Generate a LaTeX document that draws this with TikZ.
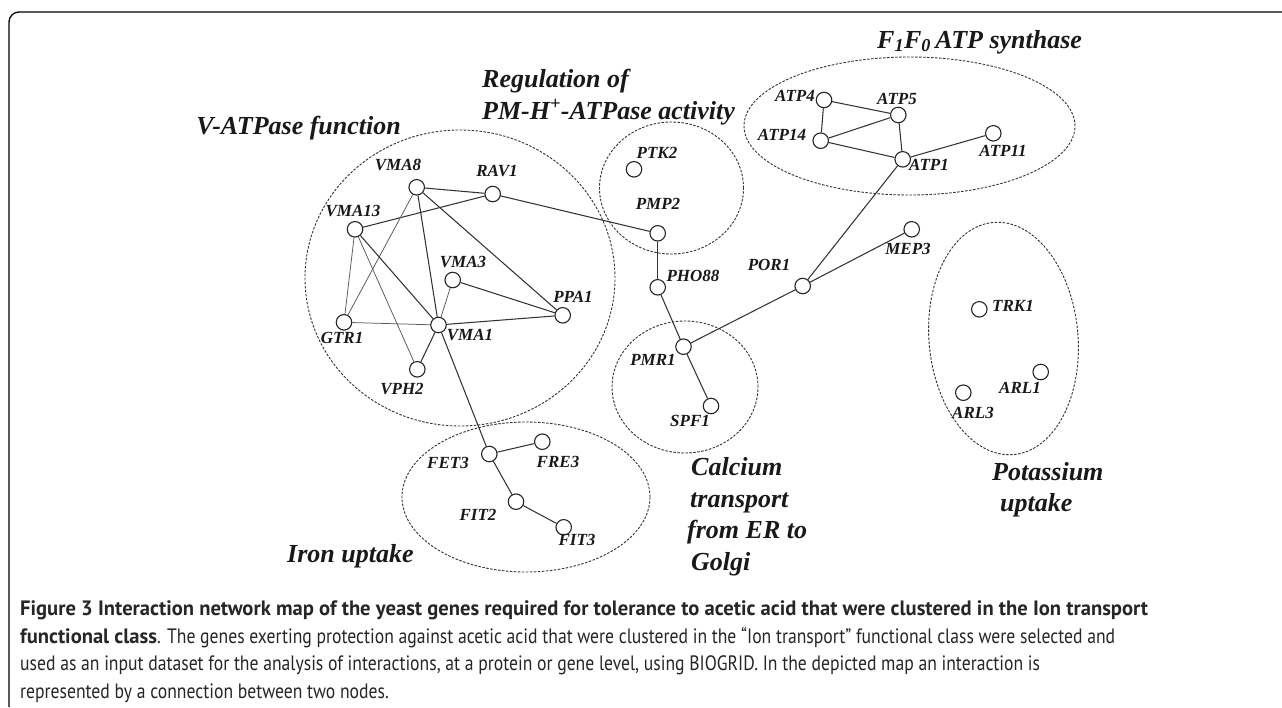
\documentclass[tikz,border=0pt]{standalone}
\usepackage{fontspec}
\setmainfont{Liberation Serif}
\newfontfamily\capfont[FakeStretch=0.848, BoldFeatures={FakeStretch=0.99}]{PT Sans}
\begin{document}
\begin{tikzpicture}[x=1pt,y=1pt]
\tikzset{
  gene/.style={circle, draw=black!85, line width=1.1pt, minimum size=15.5pt, inner sep=0pt},
  glabel/.style={font=\fontsize{17}{17}\selectfont\bfseries\itshape, inner sep=0pt, text=black!90},
  gtitle/.style={font=\fontsize{26}{26}\selectfont\bfseries\itshape, inner sep=0pt, text=black!90},
  edge/.style={line width=1.05pt, draw=black!80},
  thinedge/.style={line width=0.75pt, draw=black!65},
  cluster/.style={dash pattern=on 2.5pt off 1.5pt, line width=0.9pt, draw=black!80},
  capline/.style={anchor=base west, inner sep=0pt, font=\capfont\fontsize{20.8}{20.8}\selectfont, text=black!85}
}
\useasboundingbox (0,0) rectangle (1282,-707);
\fill[white] (0,0) rectangle (1282,-707);
% frame
\draw[line width=1.3pt] (9,-707) -- (9,-22) arc[start angle=180, end angle=90, radius=10] -- (1282,-12);

% clusters
\draw[cluster] (460,-278) ellipse [x radius=155, y radius=148];
\draw[cluster] (671.5,-188) ellipse [x radius=72, y radius=66];
\draw[cluster] (909.5,-126) ellipse [x radius=165.5, y radius=69];
\draw[cluster] (685,-387) ellipse [x radius=73, y radius=66];
\draw[cluster] (526,-497) ellipse [x radius=124, y radius=75];
\draw[cluster, rotate around={5:(1003.5,-338.5)}] (1003.5,-338.5) ellipse [x radius=74.5, y radius=116.5];

% genes
\node[gene] (VMA8) at (416.7,-187.3) {};
\node[gene] (RAV1) at (492.7,-194) {};
\node[gene] (VMA13) at (355,-229.3) {};
\node[gene] (VMA3) at (452.7,-280) {};
\node[gene] (PPA1) at (562.7,-315.3) {};
\node[gene] (GTR1) at (344,-322.3) {};
\node[gene] (VMA1) at (438.5,-325) {};
\node[gene] (VPH2) at (417.3,-369.3) {};
\node[gene] (PTK2) at (634,-169.3) {};
\node[gene] (PMP2) at (657.7,-233.3) {};
\node[gene] (PHO88) at (657.7,-287.3) {};
\node[gene] (PMR1) at (683.5,-346.7) {};
\node[gene] (SPF1) at (711,-406) {};
\node[gene] (FET3) at (489.3,-454) {};
\node[gene] (FRE3) at (542.3,-441.7) {};
\node[gene] (FIT2) at (516,-501.7) {};
\node[gene] (FIT3) at (563.7,-527.3) {};
\node[gene] (ATP4) at (824,-100) {};
\node[gene] (ATP5) at (898.3,-115) {};
\node[gene] (ATP14) at (820.7,-140.7) {};
\node[gene] (ATP1) at (902.7,-159.3) {};
\node[gene] (ATP11) at (993.3,-133.3) {};
\node[gene] (MEP3) at (911.7,-229.3) {};
\node[gene] (POR1) at (802.7,-286) {};
\node[gene] (TRK1) at (979.3,-309.3) {};
\node[gene] (ARL1) at (1040.7,-372) {};
\node[gene] (ARL3) at (963.3,-392.7) {};

% gene labels
\node[glabel] (lVMA8) at (398,-165) {VMA8};
\node[glabel] (lRAV1) at (497,-171) {RAV1};
\node[glabel] (lVMA13) at (353,-211) {VMA13};
\node[glabel] (lVMA3) at (463,-262) {VMA3};
\node[glabel] (lPPA1) at (573,-297) {PPA1};
\node[glabel] (lGTR1) at (342,-338) {GTR1};
\node[glabel] (lVMA1) at (470,-335) {VMA1};
\node[glabel] (lVPH2) at (402,-389) {VPH2};
\node[glabel] (lPTK2) at (657,-153) {PTK2};
\node[glabel] (lPMP2) at (658,-204) {PMP2};
\node[glabel] (lPHO88) at (693,-276) {PHO88};
\node[glabel] (lPMR1) at (653,-360) {PMR1};
\node[glabel] (lSPF1) at (690,-421) {SPF1};
\node[glabel] (lFET3) at (448,-463) {FET3};
\node[glabel] (lFRE3) at (558,-462) {FRE3};
\node[glabel] (lFIT2) at (478,-515) {FIT2};
\node[glabel] (lFIT3) at (577,-540) {FIT3};
\node[glabel] (lATP4) at (795,-96) {ATP4};
\node[glabel] (lATP5) at (897,-99) {ATP5};
\node[glabel] (lATP14) at (782,-135) {ATP14};
\node[glabel] (lATP1) at (929,-165) {ATP1};
\node[glabel] (lATP11) at (1003,-151) {ATP11};
\node[glabel] (lMEP3) at (908,-249) {MEP3};
\node[glabel] (lPOR1) at (769,-265) {POR1};
\node[glabel] (lTRK1) at (1013,-306) {TRK1};
\node[glabel] (lARL1) at (1020,-388) {ARL1};
\node[glabel] (lARL3) at (973,-413) {ARL3};

% edges
\draw[edge] (VMA8) -- (RAV1);
\draw[edge] (RAV1) -- (VMA13);
\draw[edge] (RAV1) -- (PMP2);
\draw[thinedge] (VMA8) -- (GTR1);
\draw[edge] (VMA8) -- (VMA1);
\draw[edge] (VMA8) -- (PPA1);
\draw[thinedge] (VMA13) -- (GTR1);
\draw[thinedge] (VMA13) -- (VPH2);
\draw[edge] (VMA13) -- (VMA1);
\draw[edge] (VMA3) -- (PPA1);
\draw[thinedge] (VMA3) -- (VMA1);
\draw[thinedge] (GTR1) -- (VMA1);
\draw[edge] (VMA1) -- (PPA1);
\draw[edge] (VMA1) -- (VPH2);
\draw[edge] (VMA1) -- (FET3);
\draw[edge] (PMP2) -- (PHO88);
\draw[edge] (PHO88) -- (PMR1);
\draw[edge] (PMR1) -- (SPF1);
\draw[edge] (PMR1) -- (POR1);
\draw[edge] (POR1) -- (ATP1);
\draw[edge] (POR1) -- (MEP3);
\draw[edge] (ATP4) -- (ATP5);
\draw[edge] (ATP4) -- (ATP14);
\draw[edge] (ATP14) -- (ATP5);
\draw[edge] (ATP14) -- (ATP1);
\draw[edge] (ATP5) -- (ATP1);
\draw[edge] (ATP1) -- (ATP11);
\draw[edge] (FET3) -- (FRE3);
\draw[edge] (FET3) -- (FIT2);
\draw[edge] (FIT2) -- (FIT3);

% titles
\node[gtitle, anchor=base east] (tV) at (401,-134) {V-ATPase function};
\node[gtitle, anchor=base west] (tReg1) at (482,-87) {Regulation of};
\node[gtitle, anchor=base west] (tReg2) at (482,-119) {PM-H\textsuperscript{+}-ATPase activity};
\node[gtitle, anchor=base west] (tF) at (877,-48) {F\textsubscript{1}F\textsubscript{0}\,ATP synthase};
\node[gtitle, anchor=base west] (tCa1) at (691,-475) {Calcium};
\node[gtitle, anchor=base west] (tCa2) at (690,-507) {transport};
\node[gtitle, anchor=base west] (tCa3) at (687,-538) {from ER to};
\node[gtitle, anchor=base west] (tCa4) at (691,-570) {Golgi};
\node[gtitle, anchor=base west] (tK1) at (992,-480) {Potassium};
\node[gtitle, anchor=base west] (tK2) at (1000,-511) {uptake};
\node[gtitle, anchor=base west] (tFe) at (287,-562) {Iron uptake};

% caption
\node[capline] (c1) at (20,-615) {\bfseries Figure 3 Interaction network map of the yeast genes required for tolerance to acetic acid that were clustered in the Ion transport};
\node[capline] (c2) at (20,-643) {{\bfseries functional class}. The genes exerting protection against acetic acid that were clustered in the “Ion transport” functional class were selected and};
\node[capline] (c3) at (20,-670) {used as an input dataset for the analysis of interactions, at a protein or gene level, using BIOGRID. In the depicted map an interaction is};
\node[capline] (c4) at (20,-698) {represented by a connection between two nodes.};
\end{tikzpicture}
\end{document}
